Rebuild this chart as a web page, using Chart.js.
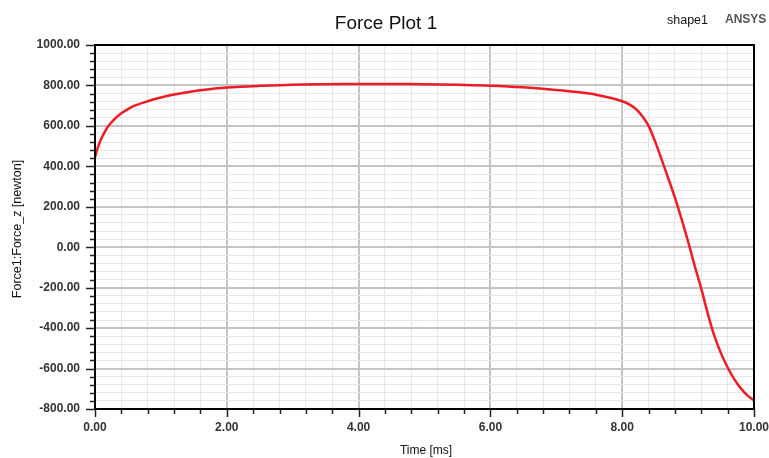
<!DOCTYPE html>
<html>
<head>
<meta charset="utf-8">
<script src="https://cdn.jsdelivr.net/npm/chart.js@4/dist/chart.umd.min.js"></script>
<style>
html,body{margin:0;padding:0;background:#fff;}
#wrap{position:relative;width:769px;height:458px;}
</style>
</head>
<body>
<div id="wrap"><canvas id="c" width="769" height="458"></canvas></div>
<script>
const timesMs = [0, 0.05, 0.1, 0.2, 0.3, 0.4, 0.5, 0.6, 0.8, 1.0, 1.2, 1.4, 1.6, 1.8, 2.0, 2.5, 3.0, 3.5, 4.0, 4.5, 5.0, 5.5, 6.0, 6.5, 7.0, 7.5, 7.8, 8.0, 8.1, 8.2, 8.3, 8.4, 8.5, 8.6, 8.7, 8.8, 8.9, 9.0, 9.1, 9.2, 9.3, 9.4, 9.5, 9.6, 9.7, 9.8, 9.9, 10.0];
const forceZ = [445, 500, 540, 598, 635, 662, 683, 700, 722, 740, 755, 766, 776, 784, 790, 798, 804, 806, 807, 807, 806, 803, 799, 791, 778, 760, 740, 722, 708, 686, 650, 600, 522, 432, 340, 245, 140, 28, -92, -205, -330, -440, -525, -595, -652, -698, -733, -758];
const xMajorTicks = [0, 2, 4, 6, 8, 10];
const yMajorTicks = [1000, 800, 600, 400, 200, 0, -200, -400, -600, -800];
const xMinorStep = 0.4;
const yMinorStep = 40;

const FONT = "'Liberation Sans', Arial, sans-serif";

function buildTicks(min, max, step) {
  const out = [];
  const n = Math.round((max - min) / step);
  for (let i = 0; i <= n; i++) out.push({ value: +(min + i * step).toFixed(6) });
  return out;
}
function isMajor(v, majors) {
  return majors.some(m => Math.abs(m - v) < 1e-6);
}

const decor = {
  id: 'decor',
  afterDraw(chart) {
    const ctx = chart.ctx;
    const a = chart.chartArea;
    const xs = chart.scales.x, ys = chart.scales.y;
    ctx.save();
    ctx.strokeStyle = '#000';
    ctx.lineWidth = 2;
    ctx.strokeRect(a.left, a.top, a.right - a.left, a.bottom - a.top);
    ctx.strokeStyle = '#222';
    ctx.lineWidth = 1.5;
    ys.ticks.forEach(t => {
      const y = Math.round(ys.getPixelForValue(t.value)) + 0.5;
      const len = isMajor(t.value, yMajorTicks) ? 9 : 5;
      ctx.beginPath(); ctx.moveTo(a.left - len, y); ctx.lineTo(a.left, y); ctx.stroke();
    });
    xs.ticks.forEach(t => {
      const x = Math.round(xs.getPixelForValue(t.value)) + 0.5;
      const len = isMajor(t.value, xMajorTicks) ? 8 : 5;
      ctx.beginPath(); ctx.moveTo(x, a.bottom); ctx.lineTo(x, a.bottom + len); ctx.stroke();
    });
    ctx.fillStyle = '#111';
    ctx.textBaseline = 'middle';
    ctx.textAlign = 'center';
    ctx.font = '19px ' + FONT;
    ctx.fillText('Force Plot 1', 386, 24);
    ctx.font = '12.5px ' + FONT;
    ctx.textAlign = 'left';
    ctx.fillText('shape1', 667, 21);
    ctx.fillStyle = '#555';
    ctx.font = 'bold 12px ' + FONT;
    ctx.fillText('ANSYS', 725, 20);
    ctx.fillStyle = '#111';
    ctx.font = '12px ' + FONT;
    ctx.textAlign = 'center';
    ctx.fillText('Time [ms]', 426, 451);
    ctx.save();
    ctx.translate(18, 229);
    ctx.rotate(-Math.PI / 2);
    ctx.font = '12.5px ' + FONT;
    ctx.fillText('Force1:Force_z [newton]', 0, 0);
    ctx.restore();
    ctx.restore();
  }
};

new Chart(document.getElementById('c'), {
  type: 'line',
  data: {
    labels: timesMs,
    datasets: [{
      data: timesMs.map((t, i) => ({ x: t, y: forceZ[i] })),
      borderColor: '#ee1c25',
      borderWidth: 2.5,
      pointRadius: 0,
      tension: 0.35,
      fill: false
    }]
  },
  options: {
    responsive: false,
    animation: false,
    devicePixelRatio: 1,
    layout: { padding: { left: 0, top: 45, right: 15, bottom: 0 } },
    plugins: { legend: { display: false }, title: { display: false }, tooltip: { enabled: false } },
    scales: {
      x: {
        type: 'linear',
        min: 0, max: 10,
        afterBuildTicks: s => { s.ticks = buildTicks(0, 10, xMinorStep); },
        afterFit: s => { s.height = 49; s.paddingLeft = 0; s.paddingRight = 0; },
        border: { display: false },
        grid: {
          drawTicks: false,
          color: c => isMajor(c.tick.value, xMajorTicks) ? '#c4c4c4' : '#e6e6e6',
          lineWidth: c => isMajor(c.tick.value, xMajorTicks) ? 2 : 1
        },
        ticks: {
          autoSkip: false,
          maxRotation: 0,
          padding: 11,
          color: '#333',
          font: { family: FONT, size: 12, weight: 'bold' },
          callback: v => isMajor(v, xMajorTicks) ? v.toFixed(2) : ''
        }
      },
      y: {
        type: 'linear',
        min: -800, max: 1000,
        afterBuildTicks: s => { s.ticks = buildTicks(-800, 1000, yMinorStep); },
        afterFit: s => { s.width = 95; s.paddingTop = 0; s.paddingBottom = 0; },
        border: { display: false },
        grid: {
          drawTicks: false,
          color: c => isMajor(c.tick.value, yMajorTicks) ? '#c4c4c4' : '#e6e6e6',
          lineWidth: c => isMajor(c.tick.value, yMajorTicks) ? 2 : 1
        },
        ticks: {
          autoSkip: false,
          padding: 15,
          color: '#333',
          font: { family: FONT, size: 12, weight: 'bold' },
          callback: v => isMajor(v, yMajorTicks) ? v.toFixed(2) : ''
        }
      }
    }
  },
  plugins: [decor]
});
</script>
</body>
</html>
